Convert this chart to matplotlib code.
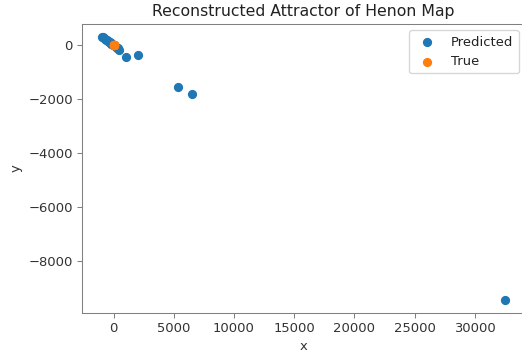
import matplotlib.pyplot as plt

# predicted points
pred_x = [-950, -880, -800, -720, -650, -560, -480, -400, -320, -250, -170, -90,
          -20, 60, 140, 220, 300, 380, 470, 1030, 2060, 5330, 6530, 32500]
pred_y = [300, 280, 250, 220, 200, 170, 140, 120, 100, 70, 50, 20,
          0, -20, -40, -70, -100, -130, -180, -440, -380, -1570, -1815, -9440]

# true Henon attractor points
true_x = [0.63, -0.19, 1.18, -1.07, 0.15, 1.03, -0.54, 0.43, 1.27, -1.28, -0.91, 0.95]
true_y = [0.19, 0.19, -0.06, 0.35, -0.32, 0.05, 0.31, -0.16, 0.13, 0.38, -0.38, -0.27]

plt.rcParams['axes.edgecolor'] = '#808080'
plt.rcParams['xtick.color'] = '#808080'
plt.rcParams['ytick.color'] = '#808080'
plt.rcParams['xtick.labelcolor'] = '#333333'
plt.rcParams['ytick.labelcolor'] = '#333333'
plt.rcParams['axes.labelcolor'] = '#333333'
plt.rcParams['text.color'] = '#222222'

fig = plt.figure(figsize=(5.52, 3.786), dpi=94.57)
ax = fig.add_axes([0.157, 0.1257, 0.849, 0.808])
ax.scatter(pred_x, pred_y, label='Predicted')
ax.scatter(true_x, true_y, label='True')
ax.set_title('Reconstructed Attractor of Henon Map')
ax.set_xlabel('x')
ax.set_ylabel('y')
ax.legend()
fig.savefig('out.png', dpi=94.57)
